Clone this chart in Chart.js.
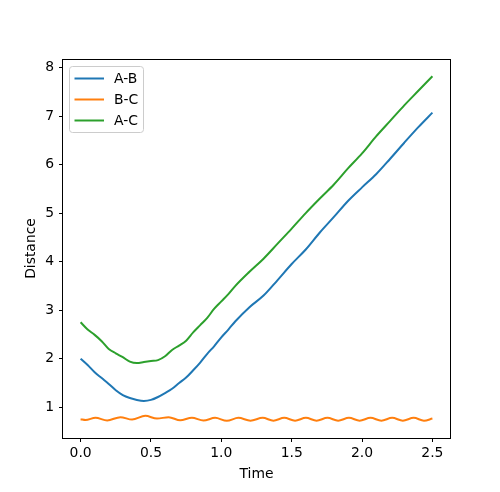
<!DOCTYPE html>
<html>
<head>
<title>Distance vs time</title>
<script src="https://cdn.jsdelivr.net/npm/chart.js@4.4.0/dist/chart.umd.min.js"></script>
<style>
  body { margin: 0; background: #fff; }
  #wrap { width: 500px; height: 492px; }
</style>
</head>
<body>
<div id="wrap"><canvas id="chart" width="500" height="492"></canvas></div>
<script>
// tick values
const xTicks = [0, 0.5, 1, 1.5, 2, 2.5];
const yTicks = [1, 2, 3, 4, 5, 6, 7, 8];

const seriesNames = ['A-B', 'B-C', 'A-C'];
const seriesColors = ['#1f77b4', '#ff7f0e', '#2ca02c'];

// A-B distance
const abTime = [0, 0.05, 0.1, 0.15, 0.2, 0.25, 0.3, 0.35, 0.4, 0.45, 0.5, 0.55, 0.6, 0.65, 0.7, 0.75, 0.8, 0.85, 0.9, 0.95,
  1.0, 1.05, 1.1, 1.2, 1.3, 1.4, 1.5, 1.6, 1.7, 1.8, 1.9, 2.0, 2.1, 2.2, 2.3, 2.4, 2.5];
const abDist = [2.00, 1.87, 1.72, 1.60, 1.48, 1.35, 1.25, 1.19, 1.15, 1.13, 1.15, 1.21, 1.29, 1.38, 1.50, 1.61, 1.76, 1.92, 2.10, 2.26,
  2.44, 2.60, 2.77, 3.06, 3.30, 3.62, 3.95, 4.25, 4.60, 4.92, 5.25, 5.53, 5.80, 6.12, 6.45, 6.77, 7.07];

// B-C distance (vibrating), peaks and troughs
const bcTime = [0, 0.035, 0.106, 0.189, 0.283, 0.366, 0.46, 0.543, 0.626, 0.708, 0.791, 0.873, 0.956, 1.039, 1.121, 1.207,
  1.294, 1.37, 1.447, 1.524, 1.601, 1.677, 1.754, 1.83, 1.907, 1.983, 2.06, 2.137, 2.214, 2.29, 2.367, 2.44, 2.5];
const bcDist = [0.752, 0.735, 0.782, 0.727, 0.795, 0.745, 0.822, 0.765, 0.795, 0.730, 0.782, 0.725, 0.780, 0.720, 0.780, 0.722,
  0.780, 0.722, 0.780, 0.722, 0.780, 0.722, 0.780, 0.722, 0.780, 0.722, 0.780, 0.722, 0.780, 0.722, 0.780, 0.722, 0.765];

// A-C distance
const acTime = [0, 0.05, 0.1, 0.15, 0.2, 0.25, 0.3, 0.35, 0.4, 0.45, 0.5, 0.55, 0.6, 0.65, 0.7, 0.75, 0.8, 0.85, 0.9, 0.95,
  1.0, 1.05, 1.1, 1.2, 1.3, 1.4, 1.5, 1.6, 1.7, 1.8, 1.9, 2.0, 2.1, 2.2, 2.3, 2.4, 2.5];
const acDist = [2.75, 2.60, 2.49, 2.36, 2.20, 2.11, 2.03, 1.94, 1.91, 1.93, 1.95, 1.97, 2.05, 2.18, 2.27, 2.37, 2.54, 2.69, 2.84, 3.03,
  3.18, 3.33, 3.50, 3.79, 4.06, 4.37, 4.68, 5.00, 5.30, 5.59, 5.92, 6.23, 6.58, 6.90, 7.22, 7.52, 7.82];

function pairs(ts, vs) {
  return ts.map((t, i) => ({ x: t, y: vs[i] }));
}

const FONT = "'DejaVu Sans', sans-serif";
Chart.defaults.font.family = FONT;
Chart.defaults.font.size = 13.9;
Chart.defaults.color = '#000';

// box round the plot area
const frame = {
  id: 'frame',
  afterDatasetsDraw(chart) {
    const a = chart.chartArea, ctx = chart.ctx;
    ctx.save();
    ctx.strokeStyle = '#000';
    ctx.lineWidth = 1;
    ctx.strokeRect(Math.round(a.left) - 0.5, Math.round(a.top) + 0.5,
      Math.round(a.right - a.left) + 1, Math.round(a.bottom - a.top));
    ctx.restore();
  }
};

// legend drawn inside the plot, upper left
const insideLegend = {
  id: 'insideLegend',
  afterDraw(chart) {
    const a = chart.chartArea, ctx = chart.ctx;
    const bx = a.left + 6.5, by = a.top + 7.5, bw = 74, bh = 66, r = 3;
    ctx.save();
    ctx.beginPath();
    ctx.moveTo(bx + r, by);
    ctx.arcTo(bx + bw, by, bx + bw, by + bh, r);
    ctx.arcTo(bx + bw, by + bh, bx, by + bh, r);
    ctx.arcTo(bx, by + bh, bx, by, r);
    ctx.arcTo(bx, by, bx + bw, by, r);
    ctx.closePath();
    ctx.fillStyle = 'rgba(255,255,255,0.8)';
    ctx.fill();
    ctx.strokeStyle = '#cccccc';
    ctx.lineWidth = 1;
    ctx.stroke();
    ctx.font = '13.9px ' + FONT;
    ctx.textBaseline = 'middle';
    ctx.fillStyle = '#000';
    seriesNames.forEach((name, i) => {
      const y = a.top + 19.5 + i * 21;
      ctx.strokeStyle = seriesColors[i];
      ctx.lineWidth = 2;
      ctx.beginPath();
      ctx.moveTo(a.left + 11.5, y);
      ctx.lineTo(a.left + 41, y);
      ctx.stroke();
      ctx.fillText(name, a.left + 51, y + 0.5);
    });
    ctx.restore();
  }
};

const tickGrid = { display: true, drawOnChartArea: false, drawTicks: true, tickLength: 4, color: '#000', lineWidth: 1 };

new Chart(document.getElementById('chart'), {
  type: 'line',
  data: {
    datasets: [
      { label: seriesNames[0], data: pairs(abTime, abDist), borderColor: seriesColors[0] },
      { label: seriesNames[1], data: pairs(bcTime, bcDist), borderColor: seriesColors[1] },
      { label: seriesNames[2], data: pairs(acTime, acDist), borderColor: seriesColors[2] }
    ]
  },
  options: {
    responsive: false,
    animation: false,
    devicePixelRatio: 1,
    layout: { padding: { top: 59, right: 50, left: 0, bottom: 0 } },
    elements: {
      point: { radius: 0 },
      line: { borderWidth: 2, cubicInterpolationMode: 'monotone', fill: false }
    },
    plugins: { legend: { display: false }, tooltip: { enabled: false } },
    scales: {
      x: {
        type: 'linear',
        min: -0.125,
        max: 2.625,
        afterBuildTicks: s => { s.ticks = xTicks.map(v => ({ value: v })); },
        afterFit: s => { s.height = 54; },
        ticks: { padding: 3, callback: v => v.toFixed(1), maxRotation: 0 },
        grid: tickGrid,
        border: { display: false },
        title: { display: true, text: 'Time', padding: { top: 0, bottom: 9 } }
      },
      y: {
        type: 'linear',
        min: 0.365,
        max: 8.175,
        afterBuildTicks: s => { s.ticks = yTicks.map(v => ({ value: v })); },
        afterFit: s => { s.width = 63; },
        ticks: { padding: 5, callback: v => String(v) },
        grid: tickGrid,
        border: { display: false },
        title: { display: true, text: 'Distance', padding: { top: 23, bottom: 0 } }
      }
    }
  },
  plugins: [frame, insideLegend]
});
</script>
</body>
</html>
